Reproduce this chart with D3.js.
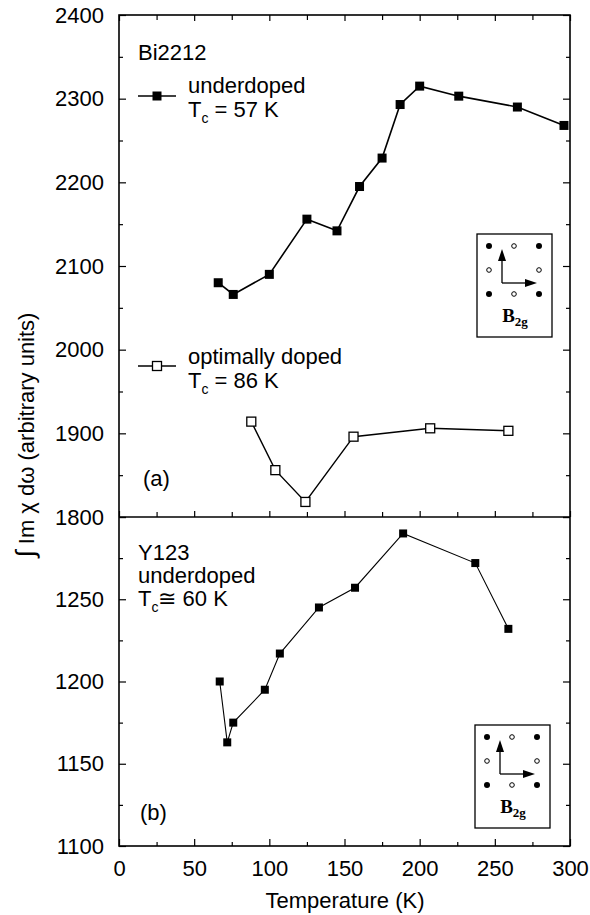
<!DOCTYPE html>
<html><head><meta charset="utf-8">
<script src="https://cdn.jsdelivr.net/npm/d3@7"></script>
<style>body{margin:0;background:#fff}svg{display:block}</style>
</head><body>
<script>
// ---- data ----
const udTemp = [66, 76, 100, 125, 145, 160, 175, 187, 200, 226, 265, 296];
const udValue = [2080, 2066, 2090, 2156, 2142, 2195, 2229, 2293, 2315, 2303, 2290, 2268];
const optTemp = [88, 104, 124, 156, 207, 259];
const optValue = [1914, 1856, 1818, 1896, 1906, 1903];
const yTemp = [67, 72, 76, 97, 107, 133, 157, 189, 237, 259];
const yValue = [1200, 1163, 1175, 1195, 1217, 1245, 1257, 1290, 1272, 1232];
const xTicks = [0, 50, 100, 150, 200, 250, 300];
const topYTicks = [1800, 1900, 2000, 2100, 2200, 2300, 2400];
const botYTicks = [1100, 1150, 1200, 1250, 1300];

const W = 590, H = 915;
const FONT = "'Liberation Sans', Arial, Helvetica, sans-serif";
const svg = d3.select("body").append("svg").attr("width", W).attr("height", H)
  .style("font-family", FONT);

const x = d3.scaleLinear([0, 300], [119, 570]);
const yTop = d3.scaleLinear([1800, 2400], [517, 15]);
const yBot = d3.scaleLinear([1100, 1300], [846, 517]);

const xMinor = d3.range(25, 300, 50);
const topMinor = d3.range(1850, 2400, 100);
const botMinor = d3.range(1125, 1300, 50);

function axis(gen, tx, ty, vals, size, fmt, pad) {
  const g = svg.append("g").attr("transform", `translate(${tx},${ty})`)
    .call(gen.tickValues(vals).tickSize(size).tickPadding(pad || 3).tickFormat(fmt || (() => "")));
  g.select(".domain").remove();
  g.selectAll(".tick line").attr("stroke", "#000").attr("stroke-width", 1.2);
  g.selectAll("text").attr("fill", "#000").style("font-size", "22px").style("font-family", FONT);
  return g;
}
// top panel
axis(d3.axisLeft(yTop), x(0), 0, topYTicks, -7, d3.format("d"), 15);
axis(d3.axisLeft(yTop), x(0), 0, topMinor, -4);
axis(d3.axisRight(yTop), x(300), 0, topYTicks, -7);
axis(d3.axisRight(yTop), x(300), 0, topMinor, -4);
axis(d3.axisTop(x), 0, yTop(2400), xTicks, -6);
axis(d3.axisTop(x), 0, yTop(2400), xMinor, -5);
axis(d3.axisBottom(x), 0, yTop(1800), xTicks, -6);
axis(d3.axisBottom(x), 0, yTop(1800), xMinor, -5);
// bottom panel
axis(d3.axisLeft(yBot), x(0), 0, botYTicks, -7, d => d === 1300 ? "" : d, 15);
axis(d3.axisLeft(yBot), x(0), 0, botMinor, -4);
axis(d3.axisRight(yBot), x(300), 0, botYTicks, -7);
axis(d3.axisRight(yBot), x(300), 0, botMinor, -4);
axis(d3.axisBottom(x), 0, yBot(1100), xTicks, -7, d3.format("d"), 14);
axis(d3.axisBottom(x), 0, yBot(1100), xMinor, -4);

// frame
svg.append("rect").attr("x", x(0)).attr("y", yTop(2400))
  .attr("width", x(300) - x(0)).attr("height", yBot(1100) - yTop(2400))
  .attr("fill", "none").attr("stroke", "#000").attr("stroke-width", 1.6);
svg.append("line").attr("x1", x(0)).attr("x2", x(300)).attr("y1", yTop(1800)).attr("y2", yTop(1800))
  .attr("stroke", "#000").attr("stroke-width", 1.6);

// series
function series(temps, vals, y, filled, sw, ms) {
  const pts = temps.map((t, i) => [x(t), y(vals[i])]);
  svg.append("path").attr("d", d3.line()(pts)).attr("fill", "none")
    .attr("stroke", "#000").attr("stroke-width", sw);
  svg.append("g").selectAll("rect").data(pts).join("rect")
    .attr("x", d => d[0] - ms / 2).attr("y", d => d[1] - ms / 2)
    .attr("width", ms).attr("height", ms)
    .attr("fill", filled ? "#000" : "#fff").attr("stroke", "#000").attr("stroke-width", filled ? 0 : 1.3);
}
series(udTemp, udValue, yTop, true, 1.6, 9);
series(optTemp, optValue, yTop, false, 1.4, 9);
series(yTemp, yValue, yBot, true, 1.1, 8);

// text helpers
function txt(xx, yy, s, size, anchor) {
  return svg.append("text").attr("x", xx).attr("y", yy).style("font-size", (size || 22) + "px")
    .attr("text-anchor", anchor || "start").text(s);
}
function tcLine(xx, yy, rest) {
  const t = svg.append("text").attr("x", xx).attr("y", yy).style("font-size", "22px");
  t.append("tspan").text("T");
  t.append("tspan").attr("dy", 6).style("font-size", "14px").text("c");
  t.append("tspan").attr("dy", -6).text(rest);
}
function legendLine(yy, filled) {
  svg.append("line").attr("x1", 138).attr("x2", 176).attr("y1", yy).attr("y2", yy)
    .attr("stroke", "#000").attr("stroke-width", 1.5);
  svg.append("rect").attr("x", 157 - 4.5).attr("y", yy - 4.5).attr("width", 9).attr("height", 9)
    .attr("fill", filled ? "#000" : "#fff").attr("stroke", "#000").attr("stroke-width", filled ? 0 : 1.3);
}

txt(138, 60, "Bi2212");
legendLine(96, true);
txt(188, 93, "underdoped");
tcLine(188, 117, " = 57 K");
legendLine(366, false);
txt(188, 364, "optimally doped");
tcLine(188, 388, " = 86 K");
txt(143, 486, "(a)");

txt(138, 560, "Y123");
txt(138, 583, "underdoped");
tcLine(138, 606, "\u2245 60 K");
txt(140, 820, "(b)");

// axis titles
txt(345, 908, "Temperature (K)", 22, "middle");
const yt = svg.append("text").attr("transform", "translate(34,435) rotate(-90)")
  .attr("text-anchor", "middle").style("font-size", "22px");
yt.append("tspan").style("font-size", "26px").text("\u222B");
yt.append("tspan").text(" Im \u03C7 d\u03C9 (arbitrary units)");

// insets
function inset(left, top) {
  const g = svg.append("g").attr("transform", `translate(${left},${top})`);
  g.append("rect").attr("width", 75).attr("height", 103).attr("fill", "#fff")
    .attr("stroke", "#000").attr("stroke-width", 1.3);
  const filled = [[12, 12], [62, 12], [12, 60], [62, 60]];
  const open = [[37, 12], [12, 36], [62, 36], [37, 60]];
  g.selectAll(".f").data(filled).join("circle").attr("cx", d => d[0]).attr("cy", d => d[1])
    .attr("r", 3).attr("fill", "#000");
  g.selectAll(".o").data(open).join("circle").attr("cx", d => d[0]).attr("cy", d => d[1])
    .attr("r", 2.3).attr("fill", "#fff").attr("stroke", "#000").attr("stroke-width", 1);
  g.append("line").attr("x1", 25).attr("y1", 49).attr("x2", 25).attr("y2", 24).attr("stroke", "#000").attr("stroke-width", 1.3);
  g.append("line").attr("x1", 25).attr("y1", 49).attr("x2", 50).attr("y2", 49).attr("stroke", "#000").attr("stroke-width", 1.3);
  g.append("path").attr("d", "M25,15 L21,27 L29,27 Z").attr("fill", "#000");
  g.append("path").attr("d", "M60,49 L48,45 L48,53 Z").attr("fill", "#000");
  const t = g.append("text").attr("x", 38).attr("y", 88).attr("text-anchor", "middle")
    .style("font-family", "'Liberation Serif', 'DejaVu Serif', serif").style("font-weight", "bold").style("font-size", "19px");
  t.append("tspan").text("B");
  t.append("tspan").attr("dy", 4).style("font-size", "13px").text("2g");
}
inset(477, 234);
inset(475, 725);
</script>
</body></html>
